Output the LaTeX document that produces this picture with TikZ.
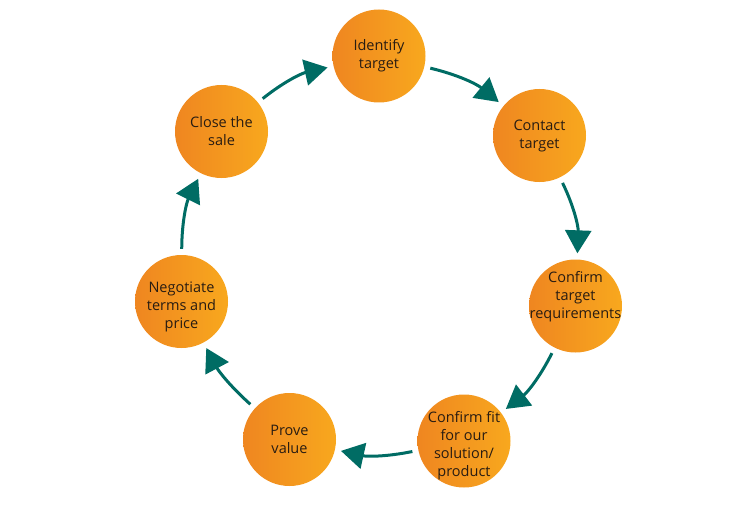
\documentclass[tikz,border=0pt]{standalone}
\usepackage{fontspec}
\setmainfont{Open Sans}
\usetikzlibrary{arrows.meta}
\definecolor{leftorange}{RGB}{239,134,32}
\definecolor{rightorange}{RGB}{248,168,30}
\definecolor{arrowteal}{RGB}{0,108,100}
\definecolor{labeltext}{RGB}{40,28,18}
\newcommand{\liftedtext}[2]{\raisebox{#1}[0pt][0pt]{\begin{tabular}{@{}c@{}}#2\end{tabular}}}
\begin{document}
\begin{tikzpicture}[x=1pt, y=1pt,
    stage/.style={circle, minimum size=93pt, inner sep=0pt, left color=leftorange,
        right color=rightorange, text=labeltext, align=center,
        font=\fontsize{14.5}{18}\selectfont},
    flow/.style={draw=arrowteal, line width=3pt, -{Triangle[length=23pt, width=26pt]},
        shorten <=6pt, shorten >=6pt}]
    \useasboundingbox (0,0) rectangle (749,-508);
    \node[stage] (identify) at (379,-56) {Identify\\target};
    \node[stage] (contact) at (539.5,-135.5) {Contact\\target};
    \node[stage] (requirements) at (575.5,-306) {\liftedtext{5.5pt}{Confirm\\target\\requirements}};
    \node[stage] (fit) at (464,-441) {\liftedtext{-8pt}{Confirm fit\\for our\\solution/\\product}};
    \node[stage] (prove) at (289.5,-439.5) {Prove\\value};
    \node[stage] (negotiate) at (181.5,-301.5) {\liftedtext{-8.5pt}{Negotiate\\terms and\\price}};
    \node[stage] (close) at (221.5,-131.5) {Close the\\sale};
    \draw[flow] (identify) to[bend left=13] (contact);
    \draw[flow] (contact) to[bend left=14] (requirements);
    \draw[flow] (requirements) to[bend left=13] (fit);
    \draw[flow] (fit) to[bend left=12] (prove);
    \draw[flow] (prove) to[bend left=10] (negotiate);
    \draw[flow] (negotiate) to[bend left=13] (close);
    \draw[flow] (close) to[bend left=13] (identify);
\end{tikzpicture}
\end{document}
